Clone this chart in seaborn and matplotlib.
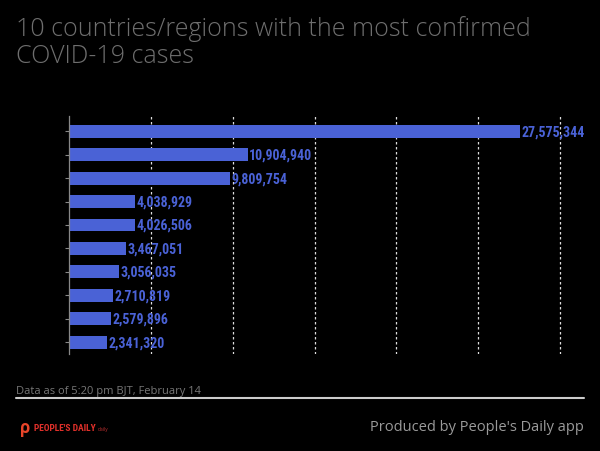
import matplotlib
matplotlib.use("Agg")
import matplotlib.pyplot as plt
import pandas as pd
import seaborn as sns

# ranks only: the reference shows no country names
ranks = ["1", "2", "3", "4", "5", "6", "7", "8", "9", "10"]
cases = [27575344, 10904940, 9809754, 4038929, 4026506,
         3467051, 3056035, 2710819, 2579896, 2341320]
grid_ticks = [5e6, 10e6, 15e6, 20e6, 25e6, 30e6]

title = "10 countries/regions with the most confirmed\nCOVID-19 cases"
note = "Data as of 5:20 pm BJT, February 14"
credit = "Produced by People's Daily app"

bar_color = "#4a62d6"
bg = "#000000"
narrow = ["Roboto Condensed", "Liberation Sans Narrow", "Roboto", "DejaVu Sans"]

sns.set_theme(style="dark")
plt.rcParams["font.family"] = ["Open Sans", "DejaVu Sans"]

df = pd.DataFrame({"rank": ranks, "cases": cases})

fig = plt.figure(figsize=(6, 4.52), dpi=100, facecolor=bg)
ax = fig.add_axes([0.115, 0.215, 0.865, 0.526])
ax.set_facecolor(bg)

sns.barplot(data=df, x="cases", y="rank", orient="h", color=bar_color,
            saturation=1, width=0.55, linewidth=0, edgecolor="none", ax=ax)

labels = [f"{v:,}" for v in cases]
ax.bar_label(ax.containers[0], labels=labels, padding=1, color=bar_color,
             fontsize=10, fontweight="bold", family=narrow)

ax.set_xlim(0, 31.7e6)
ax.set_ylim(9.5, -0.65)
ax.set_xticks(grid_ticks)
ax.set_xticklabels([])
ax.tick_params(axis="x", length=0)
ax.set_yticklabels([])
ax.tick_params(axis="y", length=3, color="#888888", width=0.8, left=True)
ax.xaxis.grid(True, color="#dddddd", linestyle=(0, (2, 2)), linewidth=0.9)
ax.yaxis.grid(False)
ax.set_axisbelow(True)
ax.set_xlabel("")
ax.set_ylabel("")
for side in ["top", "right", "bottom"]:
    ax.spines[side].set_visible(False)
ax.spines["left"].set_color("#888888")
ax.spines["left"].set_linewidth(0.9)

fig.text(0.027, 0.965, title, ha="left", va="top", fontsize=18,
         fontweight="light", color="#6e6e6e", linespacing=1.1)
fig.text(0.027, 0.128, note, ha="left", va="baseline", fontsize=8,
         color="#777777")
fig.add_artist(plt.Line2D([0.027, 0.973], [0.117, 0.117], color="#cccccc",
                          linewidth=1.5, transform=fig.transFigure))
fig.text(0.973, 0.055, credit, ha="right", va="center", fontsize=10.5,
         color="#9a9a9a")
fig.text(0.033, 0.053, "ρ", ha="left", va="center", fontsize=12,
         fontweight="bold", color="#e8452a")
fig.text(0.056, 0.053, "PEOPLE'S DAILY", ha="left", va="center", fontsize=6.8,
         fontweight="bold", color="#e0302a", family=narrow)
fig.text(0.163, 0.05, "daily", ha="left", va="center", fontsize=3.5,
         color="#c03030")

fig.savefig("out.png", dpi=100, facecolor=bg)
